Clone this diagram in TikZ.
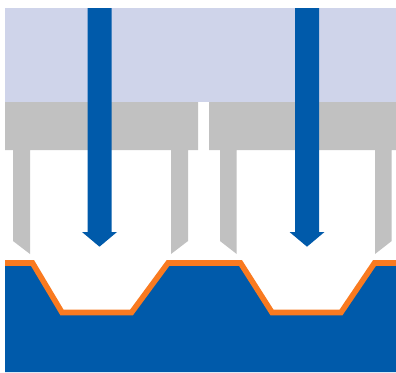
\documentclass[tikz,border=0pt]{standalone}
\definecolor{bandc}{HTML}{CFD4EA}
\definecolor{grayc}{HTML}{C1C1C1}
\definecolor{bluec}{HTML}{005AAA}
\definecolor{orangec}{HTML}{F97A20}
\tikzset{
  px/.style={x=1pt,y=-1pt},
  band/.style={fill=bandc},
  mask/.style={fill=grayc},
  base/.style={fill=bluec},
  ray/.style={fill=bluec},
  film/.style={draw=orangec,line width=5.6pt,line join=miter}
}
\begin{document}
\begin{tikzpicture}[px]
\useasboundingbox (0,0) rectangle (396,372);
\fill[white] (0,0) rectangle (396,372);
\fill[band] (5,8) rectangle (396,102);
% mask left
\fill[mask] (5,102) -- (198,102) -- (198,150) -- (188,150) -- (188,241) -- (171,254) -- (171,150) -- (30,150) -- (30,254) -- (13,241) -- (13,150) -- (5,150) -- cycle;
% mask right
\fill[mask] (209,102) -- (396,102) -- (396,150) -- (391.7,150) -- (391.7,241) -- (375,254) -- (375,150) -- (236.7,150) -- (236.7,254) -- (220,241) -- (220,150) -- (209,150) -- cycle;
% substrate
\fill[base] (5,263) -- (32.5,263) -- (62,312.5) -- (131.5,312.5) -- (168,263) -- (240.5,263) -- (272,312.5) -- (341,312.5) -- (374.5,263) -- (396,263) -- (396,372) -- (5,372) -- cycle;
\begin{scope}
\clip (5,255) rectangle (396,372);
\draw[film] (0,263) -- (32.5,263) -- (62,312.5) -- (131.5,312.5) -- (168,263) -- (240.5,263) -- (272,312.5) -- (341,312.5) -- (374.5,263) -- (400,263);
\end{scope}
% arrows
\fill[ray] (87.5,8) -- (111.5,8) -- (111.5,232) -- (117,232) -- (99.5,246.7) -- (82,232) -- (87.5,232) -- cycle;
\fill[ray] (295,8) -- (319,8) -- (319,232) -- (324.5,232) -- (307,246.7) -- (289.5,232) -- (295,232) -- cycle;
\end{tikzpicture}
\end{document}
